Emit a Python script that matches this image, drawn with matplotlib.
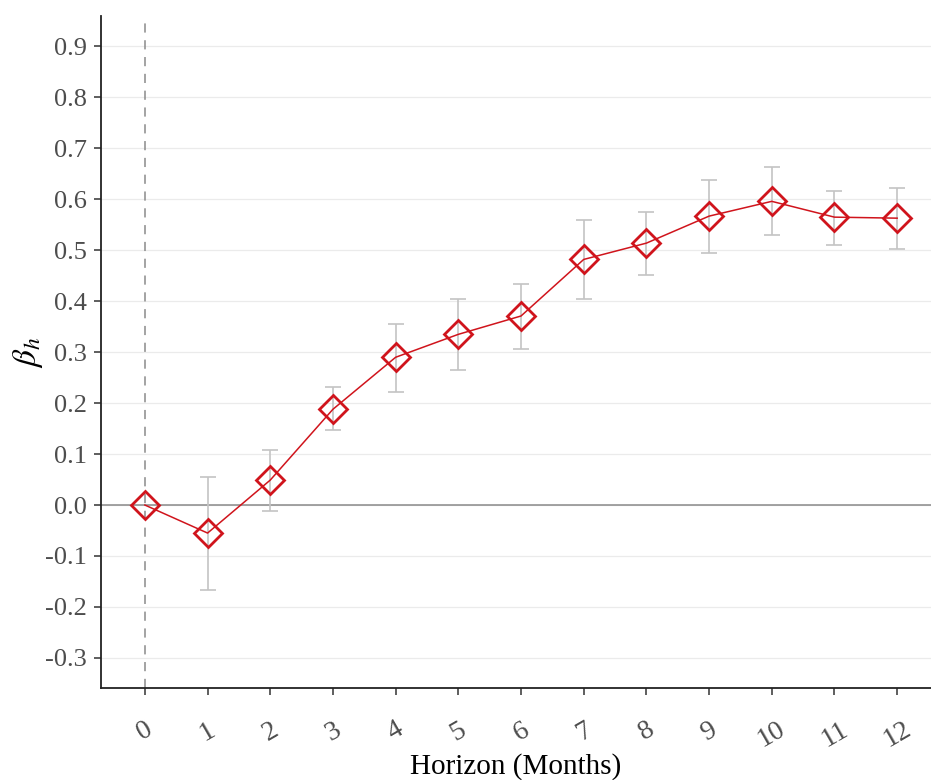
import matplotlib
matplotlib.use("Agg")
import matplotlib.pyplot as plt
import numpy as np

horizon = [0, 1, 2, 3, 4, 5, 6, 7, 8, 9, 10, 11, 12]
beta = [0.0, -0.055, 0.049, 0.188, 0.290, 0.335, 0.371, 0.482, 0.514, 0.567, 0.596, 0.565, 0.563]
ci_upper = [0.0, 0.055, 0.108, 0.231, 0.355, 0.404, 0.433, 0.559, 0.575, 0.637, 0.663, 0.616, 0.622]
ci_lower = [0.0, -0.167, -0.012, 0.147, 0.222, 0.265, 0.306, 0.404, 0.451, 0.494, 0.529, 0.510, 0.502]
y_ticks = [-0.3, -0.2, -0.1, 0.0, 0.1, 0.2, 0.3, 0.4, 0.5, 0.6, 0.7, 0.8, 0.9]

plt.rcParams['font.family'] = ['Liberation Serif', 'DejaVu Serif']
plt.rcParams['mathtext.fontset'] = 'stix'

fig = plt.figure(figsize=(9.31, 7.8), dpi=100)
ax = fig.add_axes([0.1085, 0.118, 0.8915, 0.861])

b = np.array(beta)
up = np.array(ci_upper) - b
lo = b - np.array(ci_lower)

ax.errorbar(horizon[1:], beta[1:], yerr=[lo[1:], up[1:]], fmt='none',
            ecolor='#c4c4c4', elinewidth=1.2, capsize=6, capthick=1.2, zorder=3)
ax.plot(horizon, beta, color='#d0141c', linewidth=1.1, zorder=4)
ax.plot(horizon, beta, linestyle='none', marker='D', markersize=14.5,
        markerfacecolor='none', markeredgecolor='#d0141c', markeredgewidth=2.0, zorder=5)

ax.axhline(0, color='#8a8a8a', linewidth=1.1, zorder=2)
ax.axvline(0, color='#8a8a8a', linewidth=1.1, linestyle=(0, (6, 5)), zorder=2)

ax.set_xlim(-0.70, 12.54)
ax.set_ylim(-0.359, 0.959)
ax.set_yticks(y_ticks)
ax.set_yticklabels([f"{v:.1f}" for v in y_ticks])
ax.set_xticks(horizon)
ax.set_xticklabels([str(h) for h in horizon], rotation=30)
ax.grid(axis='y', color='#ebebeb', linewidth=0.9, zorder=0)
ax.set_axisbelow(True)

for s in ['top', 'right']:
    ax.spines[s].set_visible(False)
for s in ['left', 'bottom']:
    ax.spines[s].set_color('#222222')
    ax.spines[s].set_linewidth(1.3)

ax.tick_params(axis='both', direction='out', length=5, width=1.1, color='#333333',
               labelcolor='#4d4d4d', labelsize=19)
ax.tick_params(axis='x', pad=16, labelsize=20)
ax.tick_params(axis='y', pad=5)

ax.set_xlabel('Horizon (Months)', fontsize=21, labelpad=0)
ax.set_ylabel(r'$\beta_h$', fontsize=24, labelpad=0)

fig.savefig('out.png', dpi=100)
